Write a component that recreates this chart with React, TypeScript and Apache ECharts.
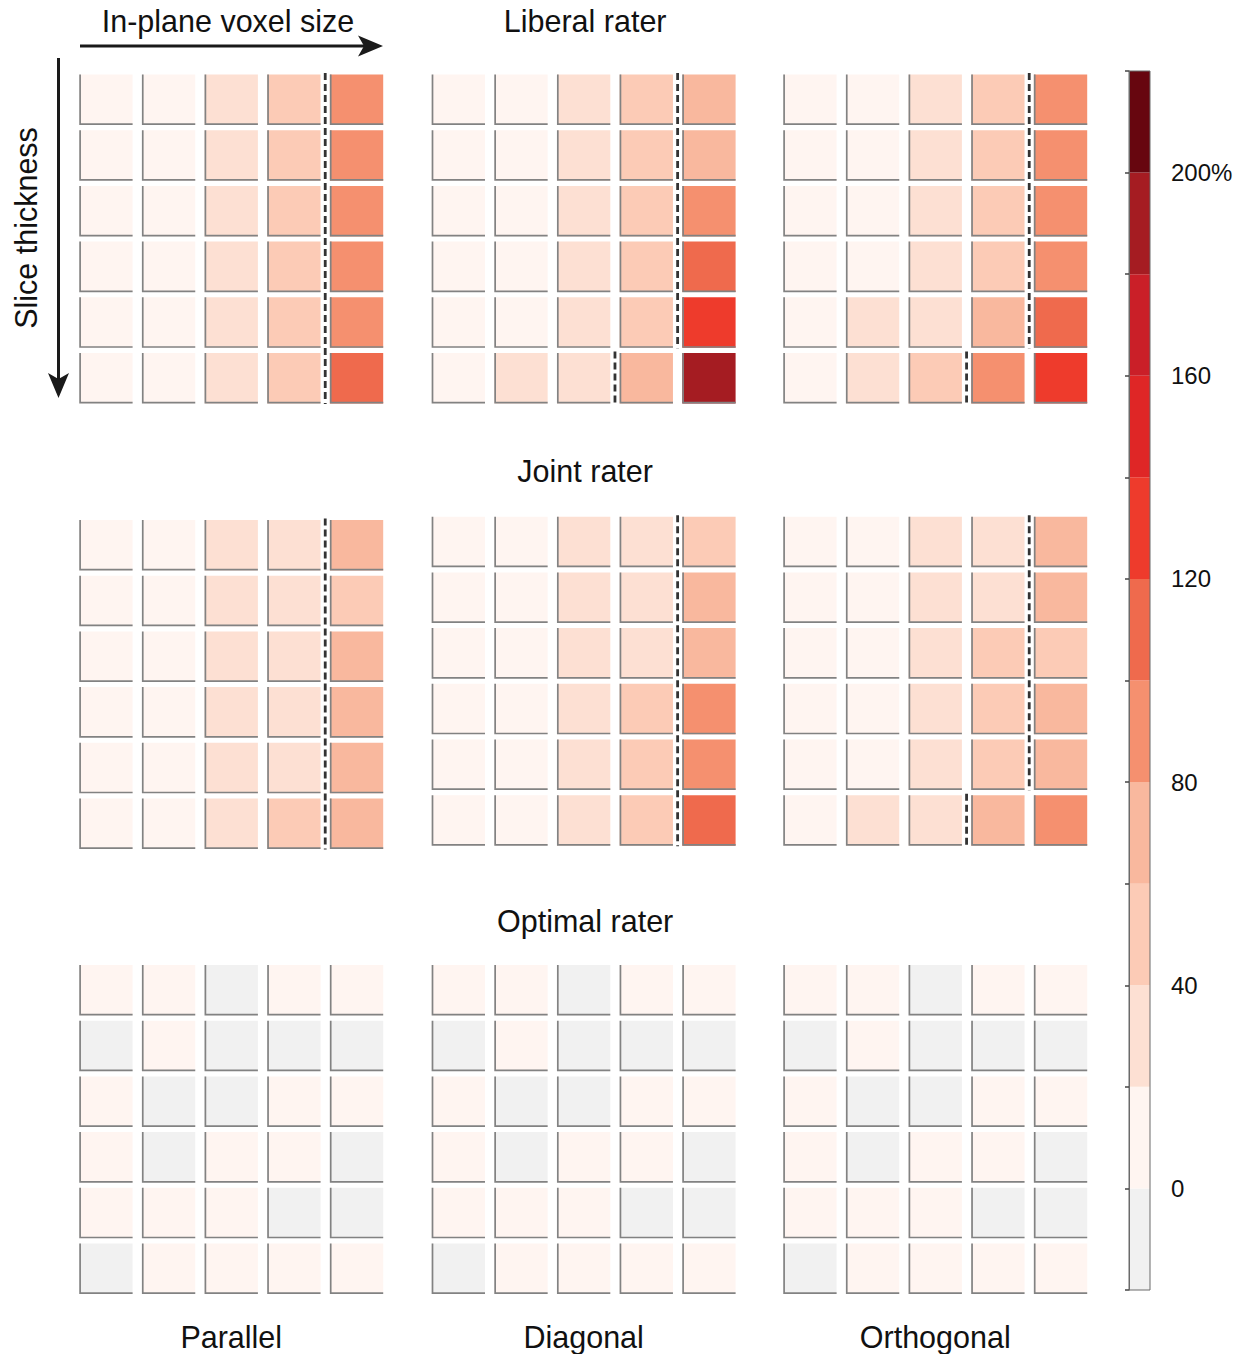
import React, { useEffect, useRef } from "react";
import * as echarts from "echarts";

// ---------- data ----------
const columnLabels = ["Parallel", "Diagonal", "Orthogonal"];
const rowTitles = ["Liberal rater", "Joint rater", "Optimal rater"];
const inPlaneCats = ["1", "2", "3", "4", "5"];
const sliceCats = ["1", "2", "3", "4", "5", "6"];

// values in % (rows = slice thickness, cols = in-plane voxel size)
const liberalParallel = [
  [8, 12, 30, 50, 90],
  [8, 12, 30, 50, 90],
  [8, 12, 30, 50, 90],
  [8, 12, 30, 50, 90],
  [8, 12, 30, 50, 90],
  [8, 12, 30, 50, 110],
];
const liberalDiagonal = [
  [6, 10, 30, 50, 70],
  [6, 10, 30, 50, 70],
  [6, 10, 30, 50, 90],
  [6, 10, 30, 50, 110],
  [6, 10, 30, 50, 130],
  [6, 28, 32, 70, 190],
];
const liberalOrthogonal = [
  [6, 10, 30, 50, 90],
  [6, 10, 30, 50, 90],
  [6, 10, 30, 50, 90],
  [6, 10, 30, 50, 90],
  [6, 28, 32, 70, 110],
  [6, 28, 45, 90, 130],
];
const jointParallel = [
  [8, 12, 30, 35, 70],
  [8, 12, 30, 35, 50],
  [8, 12, 30, 35, 70],
  [8, 12, 30, 35, 70],
  [8, 12, 30, 35, 70],
  [8, 12, 30, 50, 70],
];
const jointDiagonal = [
  [6, 10, 30, 35, 50],
  [6, 10, 30, 35, 70],
  [6, 10, 30, 35, 70],
  [6, 10, 30, 50, 90],
  [6, 10, 30, 50, 90],
  [6, 10, 30, 50, 110],
];
const jointOrthogonal = [
  [6, 10, 30, 35, 70],
  [6, 10, 30, 35, 70],
  [6, 10, 30, 50, 50],
  [6, 10, 30, 50, 70],
  [6, 10, 30, 50, 70],
  [6, 28, 32, 70, 90],
];
const optimalParallel = [
  [4, 3, -3, 2, 3],
  [-4, 2, -2, -3, -5],
  [3, -3, -4, 2, 4],
  [2, -2, 3, 2, -3],
  [3, 4, 2, -2, -4],
  [-3, 3, 2, 3, 4],
];
const optimalDiagonal = [
  [3, 4, -2, 3, 2],
  [-3, 3, -3, -2, -4],
  [4, -2, -3, 3, 3],
  [3, -3, 2, 3, -2],
  [2, 3, 3, -3, -3],
  [-2, 4, 3, 2, 3],
];
const optimalOrthogonal = [
  [5, 3, -4, 2, 2],
  [-3, 2, -2, -4, -3],
  [2, -4, -3, 4, 3],
  [4, -2, 2, 2, -4],
  [2, 3, 4, -3, -2],
  [-4, 2, 3, 3, 2],
];

// column index at which the dashed boundary sits (to the left of that column), per row
const liberalParallelBound = [4, 4, 4, 4, 4, 4];
const liberalDiagonalBound = [4, 4, 4, 4, 4, 3];
const liberalOrthogonalBound = [4, 4, 4, 4, 4, 3];
const jointParallelBound = [4, 4, 4, 4, 4, 4];
const jointDiagonalBound = [4, 4, 4, 4, 4, 4];
const jointOrthogonalBound = [4, 4, 4, 4, 4, 3];
const optimalBound: number[] = [];

// colour scale
const bandLows = [-20, 0, 20, 40, 60, 80, 100, 120, 140, 160, 180, 200];
const bandColors = [
  "#f1f1f1", "#fff5f1", "#fde0d3", "#fccbb6", "#f9b89e", "#f5906f",
  "#ef6a4d", "#ee3b2c", "#df2626", "#ca1f28", "#a51c22", "#67060f",
];
const colorbarLabels = [0, 40, 80, 120, 160, 200];

const panels = [
  [liberalParallel, liberalDiagonal, liberalOrthogonal],
  [jointParallel, jointDiagonal, jointOrthogonal],
  [optimalParallel, optimalDiagonal, optimalOrthogonal],
];
const bounds = [
  [liberalParallelBound, liberalDiagonalBound, liberalOrthogonalBound],
  [jointParallelBound, jointDiagonalBound, jointOrthogonalBound],
  [optimalBound, optimalBound, optimalBound],
];

// ---------- layout ----------
const panelLeft = [79.3, 431.7, 783.3];
const panelTop = [
  [74.5, 74.5, 74.5],
  [520, 516.7, 516.7],
  [965, 965, 965],
];
const PITCH_X = 62.65;
const PITCH_Y = 55.7;
const CELL_W = 53.3 / PITCH_X;
const CELL_H = 50.5 / PITCH_Y;
const FONT = "'Liberation Sans', Arial, Helvetica, sans-serif";
const TITLE_SIZE = 30.5;

function colorFor(v: number) {
  for (let i = bandLows.length - 1; i >= 0; i--) {
    if (v >= bandLows[i]) return bandColors[i];
  }
  return bandColors[0];
}

function groupBounds(b: number[]) {
  const out: number[][] = [];
  let i = 0;
  while (i < b.length) {
    let j = i;
    while (j + 1 < b.length && b[j + 1] === b[i]) j++;
    out.push([b[i], i, j]);
    i = j + 1;
  }
  return out;
}

function buildOption() {
  const grid: any[] = [];
  const xAxis: any[] = [];
  const yAxis: any[] = [];
  const series: any[] = [];
  let gi = 0;
  for (let r = 0; r < 3; r++) {
    for (let c = 0; c < 3; c++) {
      grid.push({
        left: panelLeft[c],
        top: panelTop[r][c],
        width: PITCH_X * 5,
        height: PITCH_Y * 6,
        containLabel: false,
      });
      xAxis.push({ type: "category", data: inPlaneCats, gridIndex: gi, show: false });
      yAxis.push({ type: "category", data: sliceCats, gridIndex: gi, inverse: true, show: false });
      const vals = panels[r][c];
      const data: number[][] = [];
      vals.forEach((row, ri) => row.forEach((v, ci) => data.push([ci, ri, v])));
      series.push({
        type: "custom",
        xAxisIndex: gi,
        yAxisIndex: gi,
        data,
        encode: { x: 0, y: 1 },
        renderItem: (params: any, api: any) => {
          const ci = api.value(0);
          const ri = api.value(1);
          const v = api.value(2);
          const p = api.coord([ci, ri]);
          const s = api.size([1, 1]);
          const x0 = p[0] - s[0] / 2;
          const y0 = p[1] - s[1] / 2;
          const w = s[0] * CELL_W;
          const h = s[1] * CELL_H;
          return {
            type: "group",
            children: [
              { type: "rect", shape: { x: x0, y: y0, width: w, height: h }, style: { fill: colorFor(v) } },
              {
                type: "polyline",
                shape: { points: [[x0 + 0.8, y0], [x0 + 0.8, y0 + h - 0.8], [x0 + w, y0 + h - 0.8]] },
                style: { stroke: "#828282", lineWidth: 1.7, fill: "none" },
              },
            ],
          };
        },
        z: 2,
      });
      const segs = groupBounds(bounds[r][c]);
      if (segs.length) {
        series.push({
          type: "custom",
          xAxisIndex: gi,
          yAxisIndex: gi,
          data: segs,
          encode: { x: 0, y: 1 },
          renderItem: (params: any, api: any) => {
            const b = api.value(0);
            const r0 = api.value(1);
            const r1 = api.value(2);
            const pTop = api.coord([b, r0]);
            const pBot = api.coord([b, r1]);
            const s = api.size([1, 1]);
            const gap = s[0] * (1 - CELL_W);
            const x = pTop[0] - s[0] / 2 - gap / 2;
            const yA = pTop[1] - s[1] / 2 - 1.5;
            const yB = pBot[1] - s[1] / 2 + s[1] * CELL_H + 0.5;
            return {
              type: "line",
              shape: { x1: x, y1: yA, x2: x, y2: yB },
              style: { stroke: "#333333", lineWidth: 2.8, lineDash: [7, 4] },
            };
          },
          z: 3,
        });
      }
      gi++;
    }
  }

  // colour bar
  grid.push({
    left: 1129,
    top: 71,
    width: 21,
    height: 1219,
    show: true,
    borderColor: "#6a6a6a",
    borderWidth: 1,
    backgroundColor: "transparent",
    z: 5,
  });
  xAxis.push({ type: "value", gridIndex: gi, min: 0, max: 1, show: false });
  yAxis.push({
    type: "value",
    gridIndex: gi,
    min: -20,
    max: 220,
    interval: 20,
    position: "right",
    z: 6,
    splitLine: { show: false },
    axisLine: { show: true, lineStyle: { color: "#6a6a6a", width: 1 } },
    axisTick: { show: true, inside: true, length: 4, lineStyle: { color: "#444", width: 1.5 } },
    axisLabel: {
      margin: 21,
      fontSize: 24,
      fontFamily: FONT,
      color: "#111",
      formatter: (v: number) =>
        colorbarLabels.indexOf(v) >= 0 ? (v === 200 ? "200%" : String(v)) : "",
    },
  });
  series.push({
    type: "custom",
    xAxisIndex: gi,
    yAxisIndex: gi,
    data: bandLows.map((lo) => [0, lo]),
    encode: { x: 0, y: 1 },
    renderItem: (params: any, api: any) => {
      const lo = api.value(1);
      const a = api.coord([0, lo + 20]);
      const b = api.coord([1, lo]);
      return {
        type: "rect",
        shape: { x: a[0], y: a[1], width: b[0] - a[0], height: b[1] - a[1] },
        style: { fill: bandColors[params.dataIndex] },
      };
    },
    z: 2,
  });

  const textStyle = (text: string, size: number) => ({
    text,
    fontSize: size,
    fontFamily: FONT,
    fill: "#111",
    align: "center",
    verticalAlign: "middle",
    textAlign: "center",
    textVerticalAlign: "middle",
  });

  const panelCenter = panelLeft.map((l) => l + (PITCH_X * 4 + PITCH_X * CELL_W) / 2);
  const graphic: any[] = [];
  rowTitles.forEach((t, i) => {
    const ys = [21, 471, 921];
    graphic.push({ type: "text", x: panelCenter[1] + 1.5, y: ys[i], style: textStyle(t, TITLE_SIZE) });
  });
  columnLabels.forEach((t, i) => {
    graphic.push({ type: "text", x: panelCenter[i], y: 1337, style: textStyle(t, TITLE_SIZE) });
  });
  graphic.push({ type: "text", x: 228, y: 21, style: textStyle("In-plane voxel size", TITLE_SIZE) });
  graphic.push({
    type: "text",
    x: 26,
    y: 228,
    rotation: Math.PI / 2,
    style: textStyle("Slice thickness", TITLE_SIZE),
  });
  // arrows
  graphic.push({
    type: "line",
    shape: { x1: 80, y1: 46, x2: 366, y2: 46 },
    style: { stroke: "#1a1a1a", lineWidth: 3 },
  });
  graphic.push({
    type: "polygon",
    shape: { points: [[383, 46], [358, 35.5], [364, 46], [358, 56.5]] },
    style: { fill: "#1a1a1a" },
  });
  graphic.push({
    type: "line",
    shape: { x1: 58.5, y1: 58, x2: 58.5, y2: 380 },
    style: { stroke: "#1a1a1a", lineWidth: 3 },
  });
  graphic.push({
    type: "polygon",
    shape: { points: [[58.5, 398], [48, 373], [58.5, 379], [69, 373]] },
    style: { fill: "#1a1a1a" },
  });

  return {
    animation: false,
    backgroundColor: "#ffffff",
    grid,
    xAxis,
    yAxis,
    series,
    graphic,
  };
}

export default function App() {
  const ref = useRef<HTMLDivElement>(null);
  useEffect(() => {
    if (!ref.current) return;
    const chart = echarts.init(ref.current, undefined, { renderer: "svg" });
    chart.setOption(buildOption() as any);
    return () => chart.dispose();
  }, []);
  return (
    <div
      ref={ref}
      style={{ position: "absolute", left: 0, top: 0, width: 1251, height: 1354 }}
    />
  );
}
